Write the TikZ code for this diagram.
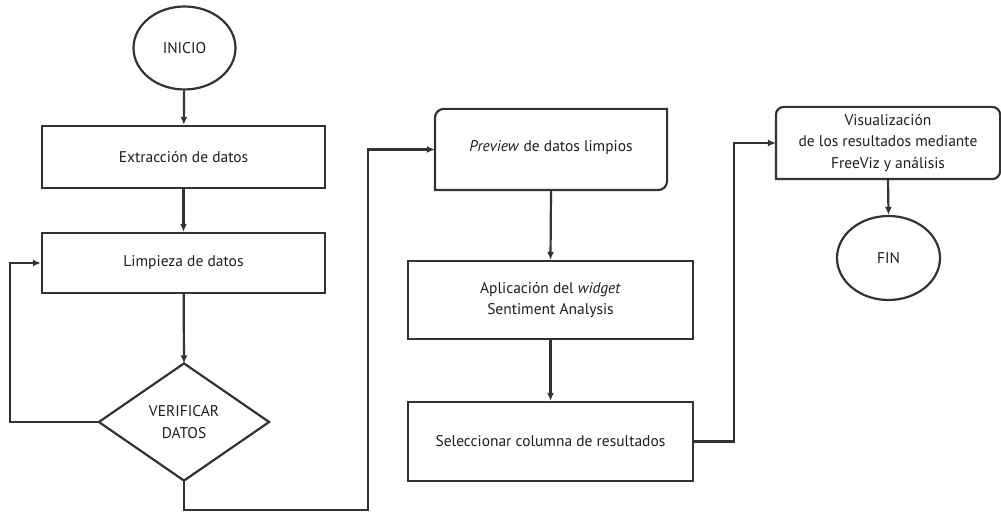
\documentclass[tikz,border=0pt]{standalone}
\usepackage{fontspec}
\setmainfont{PT Sans}
\usetikzlibrary{shapes.geometric,arrows.meta}
\definecolor{ln}{HTML}{333333}
\definecolor{tx}{HTML}{1E1E1E}
\tikzset{
  base/.style={draw=ln,line width=2.2pt,text=tx,font=\fontsize{15.5}{21.5}\selectfont,align=center,inner sep=0pt},
  procbox/.style={base,rectangle,minimum width=#1,minimum height=62pt},
  term/.style={base,ellipse,minimum width=102pt,minimum height=83pt},
  conn/.style={draw=ln,line width=2.2pt,-{Latex[length=8pt,width=7pt]}}
}
\begin{document}
\begin{tikzpicture}[x=1pt,y=1pt]
\useasboundingbox (0,0) rectangle (1001,513);
\node[term] (ini) at (184.5,465) {INICIO};
\node[procbox=283pt,minimum height=62pt] (ext) at (183.5,356) {Extracción de datos};
\node[procbox=283pt,minimum height=60pt] (lim) at (183.5,250) {\raisebox{3pt}{Limpieza de datos}};
\node[base,draw=none,minimum width=168pt,minimum height=115pt] (ver) at (184,91) {VERIFICAR\\DATOS};
\draw[ln,line width=2.2pt,line join=miter] (ver.north) -- (ver.east) -- (ver.south) -- (ver.west) -- cycle;
% preview box
\node[base,draw=none,minimum width=230pt,minimum height=79pt] (pre) at (551,363.5) {\raisebox{7pt}{\textit{Preview} de datos limpios}};
\draw[ln,line width=2.2pt] ([xshift=9pt]pre.north west) -- (pre.north east) -- ([yshift=9pt]pre.south east) arc[start angle=0,end angle=-90,radius=9pt] -- (pre.south west) -- ([yshift=-9pt]pre.north west) arc[start angle=180,end angle=90,radius=9pt] -- cycle;
\node[procbox=285pt,minimum height=78pt] (apl) at (550.5,213) {Aplicación del \textit{widget}\\Sentiment Analysis};
\node[procbox=285pt,minimum height=79pt] (sel) at (550.5,71.5) {Seleccionar columna de resultados};
% visualization box
\node[base,draw=none,minimum width=222pt,minimum height=70pt] (viz) at (888,370) {Visualización\\de los resultados mediante\\FreeViz y análisis};
\draw[ln,line width=2.2pt] ([xshift=8pt]viz.north west) -- ([xshift=-8pt]viz.north east) arc[start angle=90,end angle=0,radius=8pt] -- ([yshift=8pt]viz.south east) arc[start angle=0,end angle=-90,radius=8pt] -- (viz.south west) -- ([yshift=-8pt]viz.north west) arc[start angle=180,end angle=90,radius=8pt] -- cycle;
\node[term,minimum width=103pt,minimum height=84pt] (fin) at (888.5,255) {FIN};
% connectors
\coordinate (l1) at (10,91);
\coordinate (l2) at (10,250);
\coordinate (b1) at (184,3);
\coordinate (b2) at (368,3);
\coordinate (b3) at (368,363.5);
\coordinate (r1) at (734,71.5);
\coordinate (r2) at (734,370);
\draw[conn] (ini) -- (ext);
\draw[conn] (ext) -- (lim);
\draw[conn] (lim) -- (ver.north);
\draw[conn] (ver.west) -- (l1) -- (l2) -- (lim.west);
\draw[conn] (ver.south) -- (b1) -- (b2) -- (b3) -- (pre.west);
\draw[conn] (pre.south) -- (apl.north);
\draw[conn] (apl) -- (sel);
\draw[conn] (sel.east) -- (r1) -- (r2) -- (viz.west);
\draw[conn] (viz.south) -- (fin.north);
\end{tikzpicture}
\end{document}
